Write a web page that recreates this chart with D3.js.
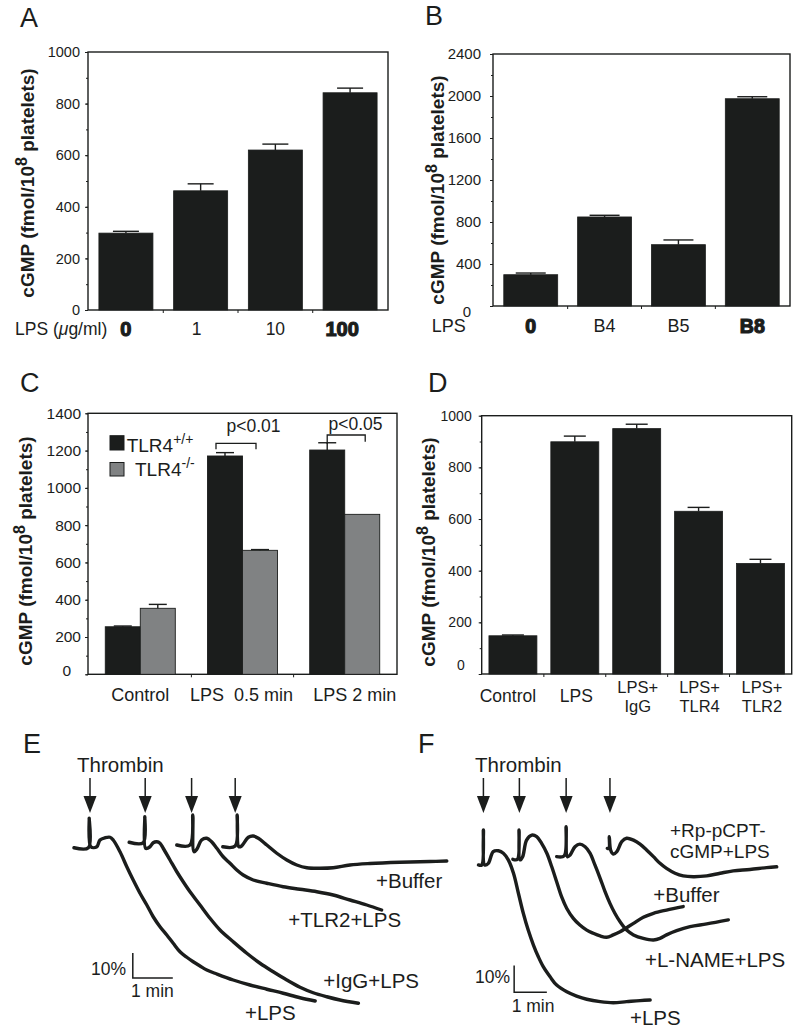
<!DOCTYPE html>
<html><head><meta charset="utf-8">
<script src="https://cdn.jsdelivr.net/npm/d3@7"></script>
<style>body{margin:0;background:#fff}</style>
</head><body>
<script>
// ---------------- DATA ----------------
const catsA = ["0", "1", "10", "100"];
const valsA = [298, 462, 620, 842];
const errA  = [305, 489, 643, 860];
const ticksA = [0, 200, 400, 600, 800, 1000];

const catsB = ["0", "B4", "B5", "B8"];
const valsB = [298, 848, 584, 1974];
const errB  = [314, 864, 629, 1993];
const ticksB = [0, 400, 800, 1200, 1600, 2000, 2400];

const catsC = ["Control", "LPS  0.5 min", "LPS 2 min"];
const seriesC = ["TLR4+/+", "TLR4-/-"];
const valsCwt = [255, 1171, 1203];
const errCwt  = [259, 1189, 1242];
const valsCko = [354, 665, 858];
const errCko  = [375, 669, 858];
const ticksC = [0, 200, 400, 600, 800, 1000, 1200, 1400];

const catsD = ["Control", "LPS", "LPS+|IgG", "LPS+|TLR4", "LPS+|TLR2"];
const valsD = [148, 899, 950, 630, 428];
const errD  = [151, 921, 967, 645, 444];
const ticksD = [0, 200, 400, 600, 800, 1000];

// aggregation traces: [time (min), aggregation change (%)]
const traceE_LPS = [[0.1,1.1],[0.46,1.1],[0.48,-10.7],[0.52,0.7],[0.67,0.7],[0.75,-2],[0.88,-2.9],[1.0,-3.1],[1.08,-2],[1.25,2.7],[1.42,8.7],[1.58,14],[1.75,19.3],[1.92,24],[2.08,28.7],[2.25,32.7],[2.42,36],[2.58,39.3],[2.75,42.7],[2.92,44.9],[3.08,46.7],[3.25,48.4],[3.42,50],[3.67,51.6],[4.08,54],[4.5,56],[4.92,57.7],[5.33,59.3],[5.75,61.1],[6.13,62.4]];
const traceE_IgG = [[1.48,-1.1],[1.83,-0.9],[1.87,-11.3],[1.89,1.3],[2.0,0.7],[2.08,-0.9],[2.17,-1.3],[2.25,-0.7],[2.33,1.3],[2.5,6],[2.67,10.7],[2.83,14.7],[3.0,18.7],[3.25,24],[3.5,29.3],[3.75,34],[4.08,38.7],[4.42,43.3],[4.75,47.3],[5.08,50.7],[5.42,54],[5.75,56.9],[6.08,59.1],[6.42,60.7],[6.75,62],[7.21,63.3]];
const traceE_TLR2 = [[2.67,0],[3.0,0],[3.07,-12],[3.1,2.7],[3.17,1.7],[3.29,-2],[3.42,-2.7],[3.54,-1.3],[3.67,1.3],[3.83,4.7],[4.0,7.3],[4.17,10],[4.33,12],[4.58,14],[4.92,15.3],[5.33,16.7],[5.75,17.7],[6.17,18.7],[6.58,20],[7.0,22],[7.42,24],[7.79,26]];
const traceE_Buffer = [[3.82,0.7],[4.13,0.4],[4.18,-12],[4.22,0.7],[4.29,0.4],[4.46,-3.1],[4.58,-3.6],[4.71,-2.7],[4.92,0],[5.17,3.3],[5.42,6],[5.67,8],[5.92,9.1],[6.25,9.3],[6.58,9.1],[7.0,8],[7.5,7.4],[8.25,6.9],[9.0,6.6],[9.42,6.4]];
const arrowsE = [0.5, 1.88, 3.04, 4.13];
const labelsE = ["+Buffer", "+TLR2+LPS", "+IgG+LPS", "+LPS"];

const traceF_LPS = [[0.26,1.1],[0.36,1.1],[0.41,-12],[0.45,1.1],[0.56,0.5],[0.71,-3.9],[0.87,-4.2],[1.02,-3.3],[1.17,-0.8],[1.33,4.2],[1.48,11.7],[1.63,19.2],[1.78,25.5],[1.94,31.1],[2.09,35.5],[2.24,39.2],[2.45,43],[2.65,46.1],[2.96,48.6],[3.26,50.2],[3.57,51.4],[3.98,52.3],[4.38,52.7],[4.79,52.3],[5.2,51.9],[5.51,51.7]];
const traceF_Buffer = [[1.31,-1],[1.45,-1],[1.5,-12],[1.53,-0.8],[1.61,-2],[1.73,-8.2],[1.89,-10.1],[2.04,-9.5],[2.19,-7],[2.35,-3.3],[2.5,1.8],[2.65,7.4],[2.8,13],[2.96,17.4],[3.16,21.1],[3.36,23.6],[3.57,25.5],[3.77,26.7],[3.98,27.7],[4.18,28.2],[4.38,27.3],[4.59,26.1],[4.79,24.6],[5.0,23],[5.3,20.7],[5.61,19.2],[6.01,18],[6.52,16.7]];
const traceF_LNAME = [[2.65,-2],[2.88,-2.3],[2.94,-13.2],[2.98,-2],[3.06,-2.6],[3.21,-5.7],[3.36,-6.7],[3.52,-5.7],[3.67,-3.3],[3.82,1.1],[3.98,6.1],[4.13,11.1],[4.28,15.5],[4.43,19.2],[4.59,22.4],[4.79,25.5],[5.0,27.3],[5.3,28.6],[5.61,29.2],[5.81,28.6],[6.01,27.3],[6.32,25.7],[6.73,24.2],[7.24,23.2],[7.9,21.7]];
const traceF_Rp = [[4.2,-5.1],[4.25,-5.1],[4.26,-9.5],[4.3,-4.5],[4.38,-3],[4.49,-3.9],[4.64,-7.6],[4.79,-8.9],[5.0,-8.2],[5.2,-6.7],[5.4,-4.5],[5.61,-2],[5.81,0.5],[6.01,2.4],[6.27,4.2],[6.52,5.2],[6.83,5.5],[7.24,5.2],[7.65,4.2],[8.05,3.3],[8.56,2.8],[9.07,2.1],[9.38,1.8]];
const arrowsF = [0.41, 1.51, 2.94, 4.28];

// ---------------- RENDER ----------------
const ink = "#1b1d1c";
const gray = "#808283";
const font = "'Liberation Sans', Arial, Helvetica, sans-serif";
const svg = d3.select("body").append("svg").attr("width", 800).attr("height", 1033)
  .style("font-family", font);

function txt(x, y, s, fs, opts = {}) {
  const t = svg.append("text").attr("x", x).attr("y", y).attr("font-size", fs)
    .attr("fill", ink).attr("text-anchor", opts.anchor || "start").text(s);
  if (opts.bold) t.attr("font-weight", "bold");
  if (opts.heavy) t.attr("font-weight", "bold").attr("stroke", ink).attr("stroke-width", 1.2);
  return t;
}

[["A",20,26.7],["B",425,25],["C",20,391.7],["D",428,391.7],["E",23,753],["F",418,753]]
  .forEach(([s,x,y]) => txt(x, y, s, 27));

function yTitle(cx, cy) {
  const t = svg.append("text").attr("transform", `translate(${cx},${cy}) rotate(-90)`)
    .attr("text-anchor", "middle").attr("font-weight", "bold").attr("font-size", 19)
    .attr("fill", ink).attr("dy", "0.35em");
  t.append("tspan").text("cGMP (fmol/10");
  t.append("tspan").attr("dy", -7).attr("font-size", 16).text("8");
  t.append("tspan").attr("dy", 7).text(" platelets)");
}

function frameAxes(o) {
  const y = d3.scaleLinear().domain([0, o.max]).range([o.bottom, o.top]);
  svg.append("rect").attr("x", o.left).attr("y", o.top).attr("width", o.right - o.left)
    .attr("height", o.bottom - o.top).attr("fill", "none").attr("stroke", ink).attr("stroke-width", 1.4);
  const minor = d3.range(0, o.max + 1, o.minorStep);
  svg.append("g").attr("transform", `translate(${o.left},0)`)
    .call(d3.axisLeft(y).tickValues(minor).tickSize(2).tickFormat(""))
    .call(s => s.select(".domain").remove())
    .selectAll("line").attr("stroke", ink);
  const ax = svg.append("g").attr("transform", `translate(${o.left},0)`)
    .call(d3.axisLeft(y).tickValues(o.ticks).tickSize(3).tickPadding(o.pad).tickFormat(d3.format("d")))
    .call(s => s.select(".domain").remove());
  ax.selectAll("line").attr("stroke", ink);
  ax.selectAll("text").attr("font-size", o.fs).attr("font-family", font).attr("fill", ink)
    .filter(d => d === 0).attr("dx", o.zdx || 0).attr("dy", (0.32 * o.fs + (o.zdy || 0)) + "px");
  return y;
}

function errBar(cx, yv, ye, cw) {
  if (Math.abs(yv - ye) < 0.5) return;
  svg.append("line").attr("x1", cx).attr("x2", cx).attr("y1", yv).attr("y2", ye).attr("stroke", ink).attr("stroke-width", 1.4);
  svg.append("line").attr("x1", cx - cw / 2).attr("x2", cx + cw / 2).attr("y1", ye).attr("y2", ye).attr("stroke", ink).attr("stroke-width", 1.4);
}

function simpleBars(o, cats, vals, errs) {
  const x = d3.scaleBand().domain(cats).range([o.left, o.right]).paddingInner(o.pi).paddingOuter(o.po);
  const y = frameAxes(o);
  cats.forEach((c, i) => {
    svg.append("rect").attr("x", x(c)).attr("y", y(vals[i])).attr("width", x.bandwidth())
      .attr("height", y(0) - y(vals[i])).attr("fill", ink).attr("stroke", ink).attr("stroke-width", 0.8);
    errBar(x(c) + x.bandwidth() / 2, y(vals[i]), y(errs[i]), o.cap);
  });
  cats.slice(1).forEach(c => {
    const bx = x(c) - x.step() * o.pi / 2;
    svg.append("line").attr("x1", bx).attr("x2", bx).attr("y1", o.bottom).attr("y2", o.bottom + 3).attr("stroke", ink);
  });
  return { x, y };
}

// ---- Panel A ----
const oA = { left: 88, right: 388, top: 52, bottom: 310, max: 1000, ticks: ticksA, minorStep: 100, pad: 5, fs: 14.5, pi: 0.277, po: 0.146, cap: 26 };
const pA = simpleBars(oA, catsA, valsA, errA);
yTitle(27, 183);
{
  const t = txt(15, 335, "LPS (", 17.5);
  t.append("tspan").attr("font-style", "italic").text("μ");
  t.append("tspan").text("g/ml)");
  const bold = [true, false, false, true];
  const dx = [0, -4, 0, -8];
  catsA.forEach((c, i) => {
    const cx = pA.x(c) + pA.x.bandwidth() / 2 + dx[i];
    if (bold[i]) txt(cx, 336, c, 20, { anchor: "middle", heavy: true });
    else txt(cx, 335, c, 17.5, { anchor: "middle" });
  });
}

// ---- Panel B ----
const oB = { left: 493, right: 790, top: 54, bottom: 306, max: 2400, ticks: ticksB, minorStep: 200, pad: 9, fs: 15, zdx: -10, zdy: 6, pi: 0.27, po: 0.146, cap: 30 };
const pB = simpleBars(oB, catsB, valsB, errB);
yTitle(437, 190);
{
  txt(431.7, 332, "LPS", 18);
  const bold = [true, false, false, true];
  catsB.forEach((c, i) => {
    const cx = pB.x(c) + pB.x.bandwidth() / 2;
    if (bold[i]) txt(cx, 333, c, 19.5, { anchor: "middle", heavy: true });
    else txt(cx, 332, c, 18, { anchor: "middle" });
  });
}

// ---- Panel C ----
{
  const o = { left: 88, right: 397, top: 413.3, bottom: 674.3, max: 1400, ticks: ticksC, minorStep: 100, pad: 4, fs: 15.5, zdx: -10, zdy: -4 };
  const x = d3.scaleBand().domain(catsC).range([o.left, o.right]).paddingInner(0.315).paddingOuter(0.169);
  const xs = d3.scaleBand().domain(seriesC).range([0, x.bandwidth()]);
  const y = frameAxes(o);
  const sets = [[valsCwt, errCwt, ink], [valsCko, errCko, gray]];
  catsC.forEach((c, i) => {
    seriesC.forEach((s, j) => {
      const [vals, errs, col] = sets[j];
      const bx = x(c) + xs(s);
      svg.append("rect").attr("x", bx).attr("y", y(vals[i])).attr("width", xs.bandwidth())
        .attr("height", y(0) - y(vals[i])).attr("fill", col).attr("stroke", ink).attr("stroke-width", 0.9);
      errBar(bx + xs.bandwidth() / 2, y(vals[i]), y(errs[i]), 18);
    });
  });
  catsC.slice(1).forEach(c => {
    const bx = x(c) - x.step() * 0.315 / 2;
    svg.append("line").attr("x1", bx).attr("x2", bx).attr("y1", o.bottom).attr("y2", o.bottom + 3).attr("stroke", ink);
  });
  const ldx = [0, -1, 10];
  catsC.forEach((c, i) => {
    const t = txt(x(c) + x.bandwidth() / 2 + ldx[i], 701, c, 18, { anchor: "middle" });
    t.attr("xml:space", "preserve").style("white-space", "pre");
  });
  yTitle(25, 551);
  svg.append("rect").attr("x", 110).attr("y", 435.7).attr("width", 14).attr("height", 14.3).attr("fill", ink).attr("stroke", ink);
  svg.append("rect").attr("x", 110).attr("y", 462.5).attr("width", 14).attr("height", 13.5).attr("fill", gray).attr("stroke", ink);
  const l1 = txt(126.7, 451.5, "TLR4", 19);
  l1.append("tspan").attr("dy", -8).attr("font-size", 14).text("+/+");
  const l2 = txt(135, 476, "TLR4", 19);
  l2.append("tspan").attr("dy", -8).attr("font-size", 14).text("-/-");
  const br = (x1, x2, yb, y2l, y2r) => svg.append("path")
    .attr("d", `M${x1},${y2l}V${yb}H${x2}V${y2r}`).attr("fill", "none").attr("stroke", ink).attr("stroke-width", 1.3);
  const c1 = x(catsC[1]) + xs("TLR4+/+") + xs.bandwidth() / 2;
  const c1b = x(catsC[1]) + xs("TLR4-/-") + xs.bandwidth() / 2;
  br(c1 - 9, c1b - 4, 443.3, 449.3, 449.3);
  txt(253.5, 432, "p<0.01", 17.5, { anchor: "middle" });
  const c2 = x(catsC[2]) + xs("TLR4+/+") + xs.bandwidth() / 2;
  br(c2, c2 + 38, 435, 444, 441.7);
  txt(355.5, 430, "p<0.05", 17.5, { anchor: "middle" });
}

// ---- Panel D ----
{
  const o = { left: 481.7, right: 791.7, top: 415.7, bottom: 674, max: 1000, ticks: ticksD, minorStep: 100, pad: 7, fs: 14, zdx: -7, zdy: -9, pi: 0.225, po: 0.117, cap: 22 };
  const p = simpleBars(o, catsD, valsD, errD);
  const ldx = [-5, 1.5, 1, 1, 1.5];
  catsD.forEach((c, i) => {
    const cx = p.x(c) + p.x.bandwidth() / 2 + ldx[i];
    const parts = c.split("|");
    if (parts.length === 1) txt(cx, 701.5, parts[0], 17.5, { anchor: "middle" });
    else { txt(cx, 692.5, parts[0], 16.5, { anchor: "middle" }); txt(cx, 712, parts[1], 16.5, { anchor: "middle" }); }
  });
  yTitle(428.5, 552);
}

// ---- Traces ----
function tracePanel(xs, ys, traces, arrows, sb) {
  const line = d3.line().x(d => xs(d[0])).y(d => ys(d[1])).curve(d3.curveCatmullRom.alpha(0.5));
  traces.forEach(tr => svg.append("path").attr("d", line(tr)).attr("fill", "none")
    .attr("stroke", ink).attr("stroke-width", 3.4).attr("stroke-linejoin", "round").attr("stroke-linecap", "round"));
  arrows.forEach(t => {
    const ax = xs(t);
    svg.append("line").attr("x1", ax).attr("x2", ax).attr("y1", 778).attr("y2", 798).attr("stroke", ink).attr("stroke-width", 1.5);
    svg.append("path").attr("d", `M${ax - 6.5},796L${ax + 6.5},796L${ax},813Z`).attr("fill", ink);
  });
  svg.append("path").attr("d", `M${xs(sb[0])},${ys(sb[1] - 10)}V${ys(sb[1])}H${xs(sb[0] + 1)}`)
    .attr("fill", "none").attr("stroke", ink).attr("stroke-width", 1.5);
}

// E
{
  const xs = d3.scaleLinear().domain([0, 1]).range([70, 110]);
  const ys = d3.scaleLinear().domain([0, 10]).range([845, 870]);
  tracePanel(xs, ys, [traceE_LPS, traceE_IgG, traceE_TLR2, traceE_Buffer], arrowsE, [1.57, 53.2]);
  txt(77, 771.7, "Thrombin", 20.5);
  txt(376, 888, labelsE[0], 20.5);
  txt(288.3, 926.7, labelsE[1], 20.5);
  txt(323.3, 988.3, labelsE[2], 20.5);
  txt(245, 1020, labelsE[3], 20.5);
  txt(126, 975, "10%", 17.5, { anchor: "end" });
  txt(131, 996.7, "1 min", 17.5);
}
// F
{
  const xs = d3.scaleLinear().domain([0, 1]).range([470, 502.7]);
  const ys = d3.scaleLinear().domain([0, 10]).range([862, 888.7]);
  tracePanel(xs, ys, [traceF_LPS, traceF_Buffer, traceF_LNAME, traceF_Rp], arrowsF, [1.35, 48.8]);
  txt(475, 771.7, "Thrombin", 20.5);
  txt(670, 836.5, "+Rp-pCPT-", 19);
  txt(670, 857.5, "cGMP+LPS", 19);
  txt(653.3, 901.7, "+Buffer", 20.5);
  txt(645, 966.7, "+L-NAME+LPS", 20.5);
  txt(630, 1025, "+LPS", 20.5);
  txt(510, 983.3, "10%", 17.5, { anchor: "end" });
  txt(511.7, 1011.7, "1 min", 17.5);
}
</script>
</body></html>
